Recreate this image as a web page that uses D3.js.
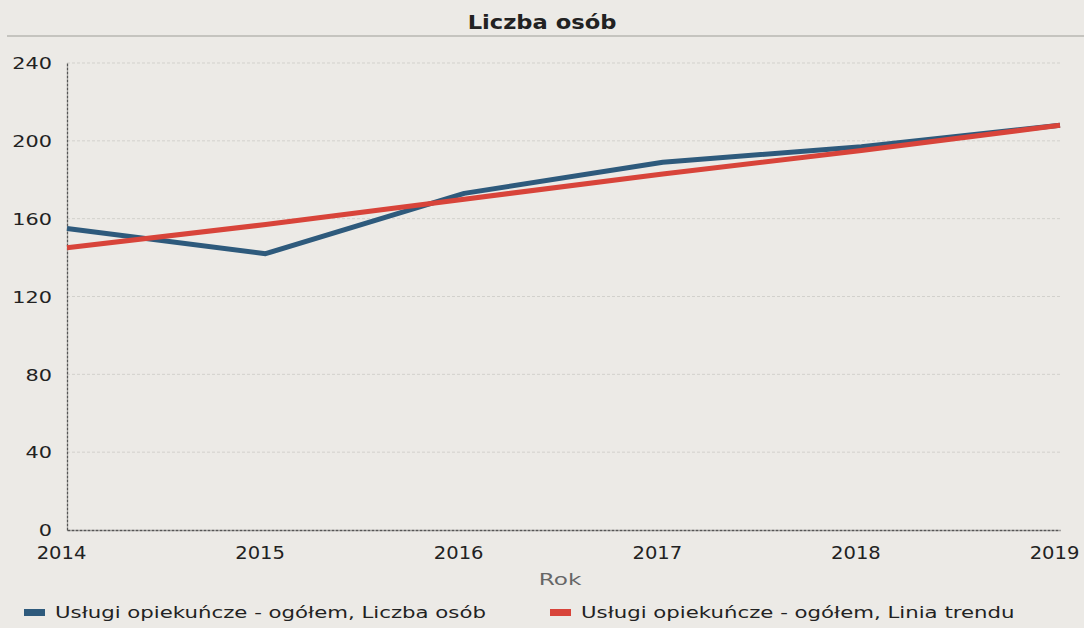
<!DOCTYPE html>
<html>
<head>
<meta charset="utf-8">
<script src="https://cdn.jsdelivr.net/npm/d3@7"></script>
<style>
  body { margin: 0; background: #eceae6; }
  svg { display: block; }
</style>
</head>
<body>
<div id="container"></div>
<script>
let w = 1084;
let h = 628;

// data
let years = [2014, 2015, 2016, 2017, 2018, 2019];
let persons = [155, 142, 173, 189, 197, 208];
let trend = [145, 157, 170, 183, 195, 208];
let yTicks = [0, 40, 80, 120, 160, 200, 240];
let seriesNames = [
  "Usługi opiekuńcze - ogółem, Liczba osób",
  "Usługi opiekuńcze - ogółem, Linia trendu"
];
let colors = ["#2e5a7c", "#d8443a"];

let font = "'DejaVu Sans', Verdana, sans-serif";

let viz = d3.select("#container")
  .append("svg")
    .attr("width", w)
    .attr("height", h)
    .style("background-color", "#eceae6")
;

let x = d3.scaleLinear().domain([2014, 2019]).range([67, 1060]);
let y = d3.scaleLinear().domain([0, 240]).range([530, 63]);

// title + line under it
viz.append("text")
    .text("Liczba osób")
    .attr("transform", "translate(542,29) scale(1.19,1)")
    .attr("text-anchor", "middle")
    .style("font-family", font)
    .style("font-weight", "bold")
    .style("font-size", "19px")
    .style("fill", "#222")
;
viz.append("line")
    .attr("x1", 7).attr("x2", w)
    .attr("y1", 36).attr("y2", 36)
    .style("stroke", "#b8b7b2")
    .style("stroke-width", 1.5)
;

// grid
viz.append("g")
    .selectAll("line")
    .data(yTicks.filter(d => d > 0))
    .enter()
  .append("line")
    .attr("x1", x(2014))
    .attr("x2", x(2019))
    .attr("y1", d => y(d))
    .attr("y2", d => y(d))
    .style("stroke", "#d2d1cc")
    .style("stroke-width", 1)
    .style("stroke-dasharray", "3,2")
;

// y axis
let yAxis = viz.append("g")
    .attr("transform", "translate(" + x(2014) + ",0)")
    .call(d3.axisLeft(y).tickValues(yTicks).tickSize(0).tickPadding(0))
;
yAxis.select(".domain")
    .style("stroke", "#555")
    .style("stroke-width", 1.3)
    .style("stroke-dasharray", "3,1");
yAxis.selectAll("text")
    .attr("x", 0)
    .attr("dy", "0.36em")
    .attr("transform", "translate(-15,0) scale(1.3,1)")
    .style("font-family", font)
    .style("font-size", "16px")
    .style("fill", "#222");

// x axis
let xAxis = viz.append("g")
    .attr("transform", "translate(0," + y(0) + ")")
    .call(d3.axisBottom(x).tickValues(years).tickFormat(d3.format("d")).tickSize(0))
;
xAxis.select(".domain")
    .style("stroke", "#555")
    .style("stroke-width", 1.3)
    .style("stroke-dasharray", "3,1");
xAxis.selectAll("text")
    .attr("y", 0)
    .attr("dy", 0)
    .attr("transform", "translate(-6,29) scale(1.15,1)")
    .style("font-family", font)
    .style("font-size", "17px")
    .style("fill", "#222");

viz.append("text")
    .text("Rok")
    .attr("transform", "translate(560,585) scale(1.45,1)")
    .attr("text-anchor", "middle")
    .style("font-family", font)
    .style("font-size", "16px")
    .style("fill", "#666")
;

// lines
let lineGen = d3.line()
  .x((d, i) => x(years[i]))
  .y(d => y(d));

viz.append("path")
    .attr("d", lineGen(persons))
    .attr("fill", "none")
    .style("stroke", colors[0])
    .style("stroke-width", 5)
    .style("stroke-linejoin", "round")
;
viz.append("path")
    .attr("d", lineGen(trend))
    .attr("fill", "none")
    .style("stroke", colors[1])
    .style("stroke-width", 5)
;

// legend
let legendX = [24, 550];
let legend = viz.selectAll(".legendItem").data(seriesNames).enter()
  .append("g")
    .attr("class", "legendItem")
    .attr("transform", (d, i) => "translate(" + legendX[i] + ",0)")
;
legend.append("rect")
    .attr("x", 0)
    .attr("y", 609)
    .attr("width", 21)
    .attr("height", 7)
    .style("fill", (d, i) => colors[i])
;
legend.append("text")
    .text(d => d)
    .attr("transform", "translate(31,618) scale(1.33,1)")
    .style("font-family", font)
    .style("font-size", "16px")
    .style("fill", "#222")
;
</script>
</body>
</html>
